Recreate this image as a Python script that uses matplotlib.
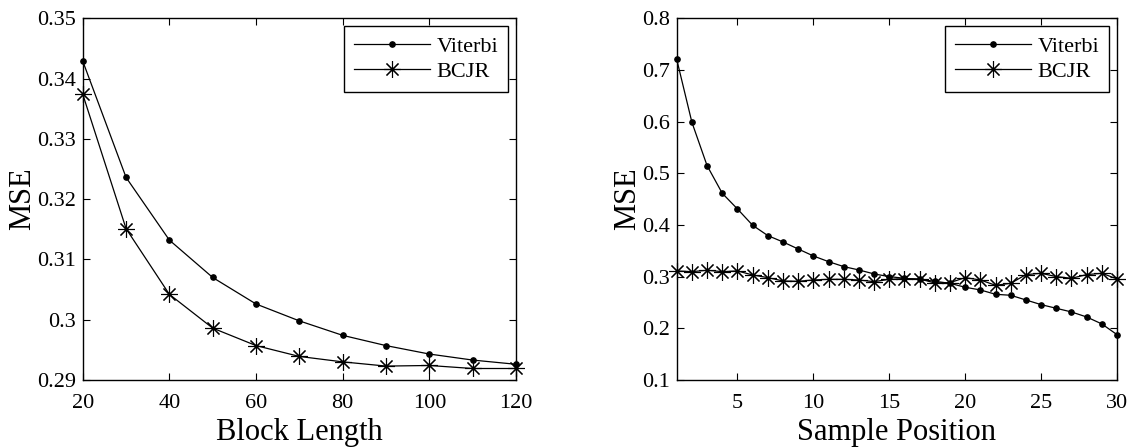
import matplotlib
matplotlib.use("Agg")
from matplotlib import pyplot as plt

plt.rcParams['font.family'] = ['Liberation Serif', 'DejaVu Serif']

# Left panel: MSE vs block length
block_len = [20, 30, 40, 50, 60, 70, 80, 90, 100, 110, 120]
viterbi_block = [0.3429, 0.3236, 0.3132, 0.3070, 0.3026, 0.2998, 0.2974,
                 0.2957, 0.2943, 0.2933, 0.2926]
bcjr_block = [0.3374, 0.3151, 0.3042, 0.2986, 0.2957, 0.2939, 0.2930,
              0.2923, 0.2924, 0.2919, 0.2919]

# Right panel: MSE vs sample position
sample_pos = list(range(1, 31))
viterbi_pos = [0.7206, 0.5987, 0.5148, 0.4613, 0.4310, 0.3994, 0.3794,
               0.3671, 0.3535, 0.3400, 0.3290, 0.3194, 0.3129, 0.3052,
               0.3000, 0.2968, 0.2945, 0.2910, 0.2870, 0.2794, 0.2742,
               0.2658, 0.2639, 0.2548, 0.2458, 0.2387, 0.2316, 0.2219,
               0.2084, 0.1877]
bcjr_pos = [0.3110, 0.3097, 0.3123, 0.3097, 0.3110, 0.3032, 0.2981,
            0.2916, 0.2910, 0.2935, 0.2948, 0.2948, 0.2935, 0.2903,
            0.2948, 0.2961, 0.2955, 0.2877, 0.2884, 0.2981, 0.2935,
            0.2832, 0.2871, 0.3039, 0.3065, 0.3000, 0.2968, 0.3039,
            0.3065, 0.2955]

fig = plt.figure(figsize=(11.29, 4.47), dpi=100)
ax1 = fig.add_axes([0.0733, 0.150, 0.3837, 0.809])
ax2 = fig.add_axes([0.5994, 0.150, 0.3900, 0.809])

star = (8, 2, 0)


def style(ax):
    ax.tick_params(direction='in', top=True, right=True, length=5,
                   width=0.8, labelsize=16, pad=5)
    ax.tick_params(axis='x', pad=10)
    for s in ax.spines.values():
        s.set_linewidth(1.0)
    ax.set_ylabel('MSE', fontsize=22, labelpad=0)
    leg = ax.legend(loc='upper right', fontsize=16, handlelength=3.4,
                    fancybox=False, framealpha=1, edgecolor='black',
                    borderaxespad=0.35, borderpad=0.45, labelspacing=0.2,
                    handletextpad=0.3)
    leg.get_frame().set_linewidth(1.0)


ax1.plot(block_len, viterbi_block, color='black', lw=0.9, marker='o',
         markersize=3.8, label='Viterbi')
ax1.plot(block_len, bcjr_block, color='black', lw=0.9, marker=star,
         markersize=12, markeredgewidth=0.8, label='BCJR')
ax1.set_xlim(20, 120)
ax1.set_ylim(0.29, 0.35)
ax1.set_xticks([20, 40, 60, 80, 100, 120])
ax1.set_yticks([0.29, 0.30, 0.31, 0.32, 0.33, 0.34, 0.35])
ax1.set_yticklabels(['0.29', '0.3', '0.31', '0.32', '0.33', '0.34', '0.35'])
ax1.set_xlabel('Block Length', fontsize=22, labelpad=4)
style(ax1)

ax2.plot(sample_pos, viterbi_pos, color='black', lw=0.9, marker='o',
         markersize=3.8, label='Viterbi')
ax2.plot(sample_pos, bcjr_pos, color='black', lw=0.9, marker=star,
         markersize=12, markeredgewidth=0.8, label='BCJR')
ax2.set_xlim(1, 30)
ax2.set_ylim(0.1, 0.8)
ax2.set_xticks([5, 10, 15, 20, 25, 30])
ax2.set_yticks([0.1, 0.2, 0.3, 0.4, 0.5, 0.6, 0.7, 0.8])
ax2.set_yticklabels(['0.1', '0.2', '0.3', '0.4', '0.5', '0.6', '0.7', '0.8'])
ax2.set_xlabel('Sample Position', fontsize=22, labelpad=4)
style(ax2)

for ax in (ax1, ax2):
    for line in ax.get_lines():
        line.set_clip_on(False)

fig.savefig('out.png', dpi=100)
